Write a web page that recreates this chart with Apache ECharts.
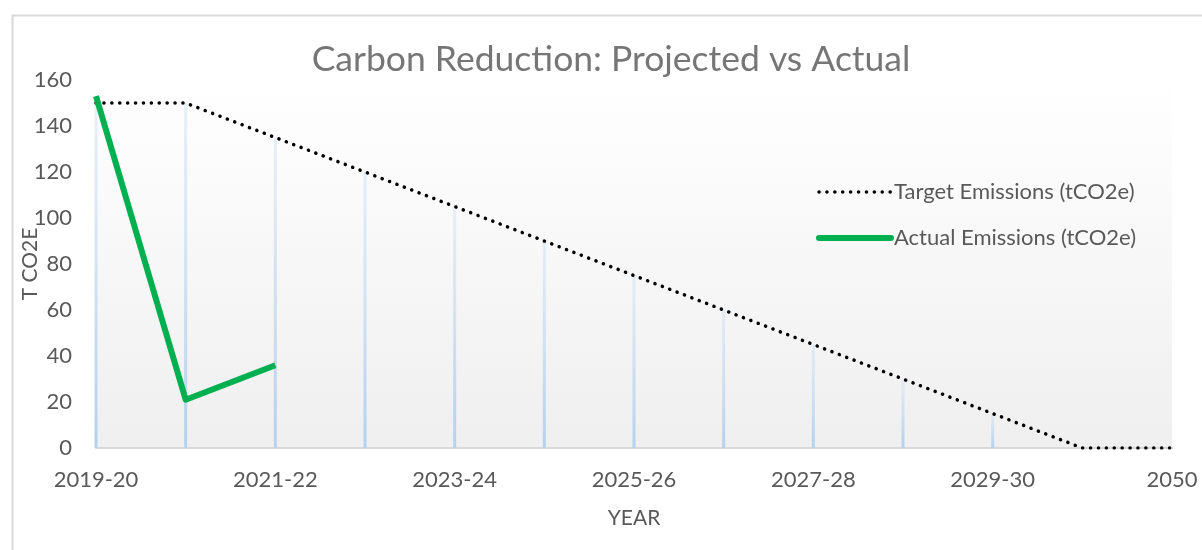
<!DOCTYPE html>
<html>
<head>
<meta charset="utf-8">
<script src="https://cdn.jsdelivr.net/npm/echarts@6/dist/echarts.min.js"></script>
<style>
html,body{margin:0;padding:0;background:#fff;}
#chart{width:1202px;height:550px;}
</style>
</head>
<body>
<div id="chart"></div>
<script>
const categories = ['2019-20','2020-21','2021-22','2022-23','2023-24','2024-25','2025-26','2026-27','2027-28','2028-29','2029-30','2030-31','2050'];
const targetEmissions = [150,150,135,120,105,90,75,60,45,30,15,0,0];
const actualEmissions = [153,21,36];
const yTicks = [0,20,40,60,80,100,120,140,160];

const FONT = 'Lato, "Open Sans", sans-serif';
const chart = echarts.init(document.getElementById('chart'));
chart.setOption({
  animation: false,
  backgroundColor: '#fff',
  graphic: [{
    type: 'rect', left: 10, top: 13, z: -10,
    shape: { width: 1250, height: 600 },
    style: { fill: 'none', stroke: '#d9d9d9', lineWidth: 2 }
  }],
  title: {
    text: 'Carbon Reduction: Projected vs Actual',
    left: 606, top: 37, textAlign: 'center',
    textStyle: { fontFamily: FONT, fontSize: 35.5, fontWeight: 'normal', color: '#767676' }
  },
  legend: {
    orient: 'vertical', left: 811, top: 176, itemGap: 24,
    itemWidth: 72, itemHeight: 22,
    textStyle: { fontFamily: FONT, fontSize: 22, color: '#595959', padding: [0,0,0,-2] },
    data: [
      { name: 'Target Emissions (tCO2e)', itemStyle: { opacity: 0 },
        lineStyle: { color: '#000', width: 3.5, type: [0.1, 7.8], cap: 'round' } },
      { name: 'Actual Emissions (tCO2e)', itemStyle: { opacity: 0 },
        lineStyle: { color: '#00b050', width: 6, cap: 'round' } }
    ]
  },
  grid: {
    left: 96, right: 30, top: 80, bottom: 102, show: true, borderWidth: 0,
    backgroundColor: new echarts.graphic.LinearGradient(0,0,0,1,[
      {offset:0,color:'#ffffff'},{offset:1,color:'#efefef'}])
  },
  xAxis: {
    type: 'category', data: categories, boundaryGap: false,
    name: 'YEAR', nameLocation: 'middle', nameGap: 60, nameMoveOverlap: false,
    nameTextStyle: { fontFamily: FONT, fontSize: 21, color: '#595959' },
    axisLine: { lineStyle: { color: '#d9d9d9', width: 2 } },
    axisTick: { show: false },
    axisLabel: { interval: 1, margin: 21, fontFamily: FONT, fontSize: 22, color: '#595959' },
    splitLine: { show: false }
  },
  yAxis: {
    type: 'value', min: 0, max: 160, interval: 20,
    name: 'T CO2E', nameLocation: 'middle', nameGap: 55, nameMoveOverlap: false,
    nameTextStyle: { fontFamily: FONT, fontSize: 21, color: '#595959' },
    axisLine: { show: false }, axisTick: { show: false },
    axisLabel: { margin: 24, fontFamily: FONT, fontSize: 22, color: '#595959',
      formatter: v => yTicks.includes(v) ? String(v) : '' },
    splitLine: { show: false }
  },
  series: [
    {
      name: 'drop', type: 'bar', data: targetEmissions, barWidth: 3, silent: true,
      itemStyle: { color: new echarts.graphic.LinearGradient(0,0,0,1,[
        {offset:0,color:'rgba(215,230,246,0.6)'},{offset:1,color:'#b4d1ee'}]) },
      z: 1
    },
    {
      name: 'Target Emissions (tCO2e)', type: 'line', data: targetEmissions,
      symbol: 'none', z: 3,
      lineStyle: { color: '#000', width: 3.5, type: [0.1, 7.8], cap: 'round' },
      itemStyle: { color: '#000' }
    },
    {
      name: 'Actual Emissions (tCO2e)', type: 'line', data: actualEmissions,
      symbol: 'none', z: 4,
      lineStyle: { color: '#00b050', width: 6, cap: 'butt', join: 'round' },
      itemStyle: { color: '#00b050' }
    }
  ]
});
</script>
</body>
</html>
